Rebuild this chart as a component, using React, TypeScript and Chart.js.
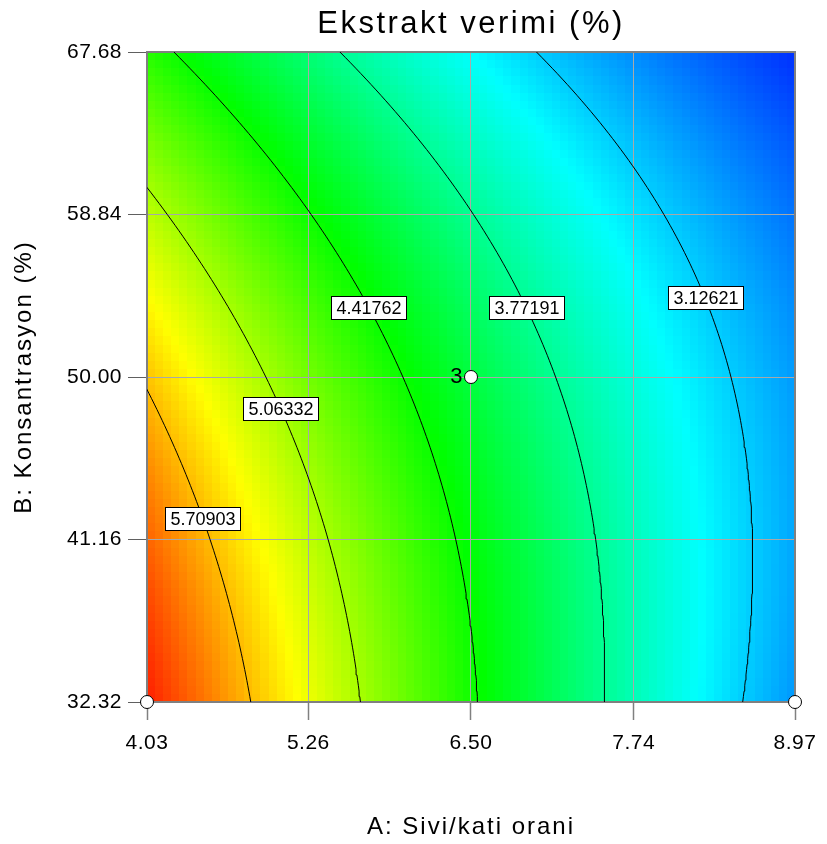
import React, { useEffect, useRef } from 'react';
import { Chart, registerables } from 'chart.js';

Chart.register(...registerables);

// ---- data ----
const chartTitle = 'Ekstrakt verimi (%)';
const xTitle = 'A: Sivi/kati orani';
const yTitle = 'B: Konsantrasyon (%)';
const xTicks = [4.03, 5.26, 6.5, 7.74, 8.97];
const yTicks = [32.32, 41.16, 50.0, 58.84, 67.68];
const factorA = [4.03, 8.97]; // low, high (actual units)
const factorB = [32.32, 67.68];
// fitted response-surface model in coded units: Intercept, A, B, AB, A², B²
const modelCoefs = [4.12, -1.379, -0.563, 0.35, 0.175, -0.23];
const colorRange = [2.28, 6.48];
const contourLevels = [5.70903, 5.06332, 4.41762, 3.77191, 3.12621];
const contourLabelB = [42.3, 48.3, 53.8, 53.8, 54.3];
const designA = [4.03, 8.97, 6.5];
const designB = [32.32, 32.32, 50.0];
const designReps = [1, 1, 3];

// ---- helpers ----
const gridCells = 80;
const FONT = 'Liberation Sans, Arial, Helvetica, sans-serif';
const colorStops = [
  [0, 0, 255],
  [0, 255, 255],
  [0, 255, 0],
  [255, 255, 0],
  [255, 0, 0],
];

const fromCodedA = (a: number) => factorA[0] + ((a + 1) / 2) * (factorA[1] - factorA[0]);
const fromCodedB = (b: number) => factorB[0] + ((b + 1) / 2) * (factorB[1] - factorB[0]);
const toCodedB = (B: number) => (2 * (B - factorB[0])) / (factorB[1] - factorB[0]) - 1;

const response = (a: number, b: number) => {
  const [c0, cA, cB, cAB, cAA, cBB] = modelCoefs;
  return c0 + cA * a + cB * b + cAB * a * b + cAA * a * a + cBB * b * b;
};

const contourA = (level: number, b: number) => {
  const [c0, cA, cB, cAB, cAA, cBB] = modelCoefs;
  const qa = cAA;
  const qb = cA + cAB * b;
  const qc = c0 + cB * b + cBB * b * b - level;
  const d = qb * qb - 4 * qa * qc;
  if (d < 0) return NaN;
  return (-qb - Math.sqrt(d)) / (2 * qa);
};

const rainbow = (v: number) => {
  let t = (v - colorRange[0]) / (colorRange[1] - colorRange[0]);
  t = Math.max(0, Math.min(1, t));
  const s = t * (colorStops.length - 1);
  const i = Math.min(colorStops.length - 2, Math.floor(s));
  const f = s - i;
  const c0 = colorStops[i];
  const c1 = colorStops[i + 1];
  const r = Math.round(c0[0] + (c1[0] - c0[0]) * f);
  const g = Math.round(c0[1] + (c1[1] - c0[1]) * f);
  const bl = Math.round(c0[2] + (c1[2] - c0[2]) * f);
  return `rgb(${r},${g},${bl})`;
};

const contourPoints = (level: number) => {
  const pts: { x: number; y: number }[] = [];
  const steps = 120;
  for (let k = 0; k <= steps; k++) {
    const b = -1 + (2 * k) / steps;
    const a = contourA(level, b);
    if (isFinite(a) && a > -1.6 && a < 1.6) pts.push({ x: fromCodedA(a), y: fromCodedB(b) });
  }
  return pts;
};

// ---- plugins ----
const textSpacingPlugin = {
  id: 'textSpacing',
  beforeDraw(chart: any) {
    const wrap = (obj: any, key: string, ls: string) => {
      if (!obj || obj['__ls_' + key]) return;
      const orig = obj[key];
      obj[key] = function (...args: any[]) {
        const c: any = chart.ctx;
        const prev = c.letterSpacing;
        c.letterSpacing = ls;
        const r = orig.apply(this, args);
        c.letterSpacing = prev || '0px';
        return r;
      };
      obj['__ls_' + key] = true;
    };
    wrap(chart.titleBlock, 'draw', '2.5px');
    wrap(chart.scales.x, 'drawLabels', '0.5px');
    wrap(chart.scales.y, 'drawLabels', '0.5px');
    wrap(chart.scales.x, 'drawTitle', '2px');
    wrap(chart.scales.y, 'drawTitle', '2px');
  },
};

const heatmapPlugin = {
  id: 'heatmap',
  beforeDraw(chart: any) {
    const { ctx, scales } = chart;
    const x = scales.x;
    const y = scales.y;
    ctx.save();
    for (let i = 0; i < gridCells; i++) {
      const a0 = -1 + (2 * i) / gridCells;
      const a1 = -1 + (2 * (i + 1)) / gridCells;
      const px0 = Math.round(x.getPixelForValue(fromCodedA(a0)));
      const px1 = Math.round(x.getPixelForValue(fromCodedA(a1)));
      for (let j = 0; j < gridCells; j++) {
        const b0 = -1 + (2 * j) / gridCells;
        const b1 = -1 + (2 * (j + 1)) / gridCells;
        const pyBottom = Math.round(y.getPixelForValue(fromCodedB(b0)));
        const pyTop = Math.round(y.getPixelForValue(fromCodedB(b1)));
        ctx.fillStyle = rainbow(response((a0 + a1) / 2, (b0 + b1) / 2));
        ctx.fillRect(px0, pyTop, px1 - px0, pyBottom - pyTop);
      }
    }
    ctx.restore();
  },
};

const framePlugin = {
  id: 'frame',
  beforeDatasetsDraw(chart: any) {
    const { ctx, chartArea: ca } = chart;
    ctx.save();
    ctx.strokeStyle = '#808080';
    ctx.lineWidth = 2;
    ctx.strokeRect(ca.left, ca.top, ca.right - ca.left, ca.bottom - ca.top);
    ctx.restore();
  },
};

const labelPlugin = {
  id: 'contourLabels',
  afterDatasetsDraw(chart: any) {
    const { ctx, scales } = chart;
    const x = scales.x;
    const y = scales.y;
    ctx.save();
    (ctx as any).letterSpacing = '0px';
    ctx.font = `18px ${FONT}`;
    ctx.textAlign = 'center';
    ctx.textBaseline = 'middle';
    contourLevels.forEach((level, idx) => {
      const b = toCodedB(contourLabelB[idx]);
      const a = contourA(level, b);
      const px = x.getPixelForValue(fromCodedA(a));
      const py = y.getPixelForValue(contourLabelB[idx]);
      const text = level.toFixed(5);
      const w = Math.round(ctx.measureText(text).width + 10);
      const h = 23;
      const left = Math.round(px - w / 2) + 0.5;
      const top = Math.round(py - h / 2) + 0.5;
      ctx.fillStyle = '#ffffff';
      ctx.fillRect(left, top, w, h);
      ctx.strokeStyle = '#000000';
      ctx.lineWidth = 1;
      ctx.strokeRect(left, top, w, h);
      ctx.fillStyle = '#000000';
      ctx.fillText(text, left + w / 2, top + h / 2 + 1);
    });
    // replicate counts beside design points
    ctx.font = `22px ${FONT}`;
    ctx.textAlign = 'right';
    designReps.forEach((n, i) => {
      if (n > 1) {
        const px = x.getPixelForValue(designA[i]);
        const py = y.getPixelForValue(designB[i]);
        ctx.fillText(String(n), px - 8.5, py);
      }
    });
    ctx.restore();
  },
};

export default function App() {
  const canvasRef = useRef<HTMLCanvasElement | null>(null);

  useEffect(() => {
    document.body.style.margin = '0';
    const canvas = canvasRef.current;
    if (!canvas) return;

    const datasets: any[] = [
      {
        type: 'scatter',
        data: designA.map((v, i) => ({ x: v, y: designB[i] })),
        pointRadius: 6.5,
        pointHoverRadius: 6.5,
        backgroundColor: '#ffffff',
        borderColor: '#000000',
        borderWidth: 1,
        clip: false,
        showLine: false,
      },
      ...contourLevels.map((lv) => ({
        type: 'scatter',
        data: contourPoints(lv),
        showLine: true,
        pointRadius: 0,
        borderColor: '#000000',
        borderWidth: 1,
        tension: 0,
        fill: false,
      })),
    ];

    const chart = new Chart(canvas, {
      type: 'scatter',
      data: { datasets },
      options: {
        animation: false,
        responsive: false,
        events: [],
        layout: { padding: { top: 0, right: 32, bottom: 0, left: 0 } },
        plugins: {
          legend: { display: false },
          tooltip: { enabled: false },
          title: {
            display: true,
            text: chartTitle,
            fullSize: false,
            color: '#000000',
            font: { family: FONT, size: 31, weight: 'normal', lineHeight: 1.2 },
            padding: { top: 6, bottom: 8.8 },
          },
        },
        scales: {
          x: {
            type: 'linear',
            min: factorA[0],
            max: factorA[1],
            afterBuildTicks: (scale: any) => {
              scale.ticks = xTicks.map((v) => ({ value: v }));
            },
            afterFit: (scale: any) => {
              scale.height = 142;
            },
            ticks: {
              callback: (v: any) => Number(v).toFixed(2),
              font: { family: FONT, size: 21 },
              color: '#000000',
              padding: 11,
              maxRotation: 0,
              autoSkip: false,
            },
            grid: {
              color: '#a8a8a8',
              lineWidth: 1,
              tickLength: 18,
              tickColor: '#808080',
              tickWidth: 1.5,
            },
            border: { display: false },
            title: {
              display: true,
              text: xTitle,
              color: '#000000',
              font: { family: FONT, size: 24, lineHeight: 1.2 },
              padding: { top: 0, bottom: 2.6 },
            },
          },
          y: {
            type: 'linear',
            min: factorB[0],
            max: factorB[1],
            afterBuildTicks: (scale: any) => {
              scale.ticks = yTicks.map((v) => ({ value: v }));
            },
            afterFit: (scale: any) => {
              scale.width = 147;
            },
            ticks: {
              callback: (v: any) => Number(v).toFixed(2),
              font: { family: FONT, size: 21 },
              color: '#000000',
              padding: 6,
              autoSkip: false,
            },
            grid: {
              color: '#a8a8a8',
              lineWidth: 1,
              tickLength: 19,
              tickColor: '#606060',
              tickWidth: 1,
            },
            border: { display: false },
            title: {
              display: true,
              text: yTitle,
              color: '#000000',
              font: { family: FONT, size: 24, lineHeight: 1.2 },
              padding: { top: 9.6, bottom: 0 },
            },
          },
        },
      } as any,
      plugins: [textSpacingPlugin, heatmapPlugin, framePlugin, labelPlugin] as any,
    });

    return () => chart.destroy();
  }, []);

  return (
    <div style={{ width: 827, height: 844 }}>
      <canvas ref={canvasRef} width={827} height={844} style={{ width: 827, height: 844, display: 'block' }} />
    </div>
  );
}
